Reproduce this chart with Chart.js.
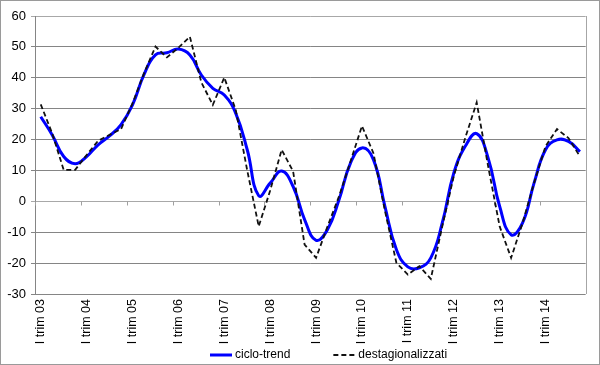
<!DOCTYPE html>
<html><head><meta charset="utf-8">
<script src="https://cdn.jsdelivr.net/npm/chart.js@4.4.0/dist/chart.umd.min.js"></script>
<style>html,body{margin:0;padding:0;background:#fff;} #wrap{width:600px;height:365px;position:relative;}</style>
</head><body><div id="wrap"><canvas id="c" width="600" height="365"></canvas></div>
<script>
const categories = [
 'I trim 03','II trim 03','III trim 03','IV trim 03',
 'I trim 04','II trim 04','III trim 04','IV trim 04',
 'I trim 05','II trim 05','III trim 05','IV trim 05',
 'I trim 06','II trim 06','III trim 06','IV trim 06',
 'I trim 07','II trim 07','III trim 07','IV trim 07',
 'I trim 08','II trim 08','III trim 08','IV trim 08',
 'I trim 09','II trim 09','III trim 09','IV trim 09',
 'I trim 10','II trim 10','III trim 10','IV trim 10',
 'I trim 11','II trim 11','III trim 11','IV trim 11',
 'I trim 12','II trim 12','III trim 12','IV trim 12',
 'I trim 13','II trim 13','III trim 13','IV trim 13',
 'I trim 14','II trim 14','III trim 14','IV trim 14'
];
const cicloTrend = [
 27.4, 21.5, 14.5, 12.2,
 14.5, 18.3, 21.2, 24.8,
 31.2, 41.0, 47.4, 48.1,
 49.3, 47.4, 40.9, 36.6,
 34.4, 28.5, 16.7, 1.8,
 5.9, 9.8, 4.8, -5.9,
 -12.6, -9.1, 0.5, 12.4,
 17.3, 13.5, -1.6, -15.6,
 -21.2, -21.5, -18.3, -7.0,
 9.1, 17.8, 21.9, 14.0,
 -1.6, -10.8, -7.0, 5.9,
 16.7, 19.9, 19.4, 16.1
];
const destagionalizzati = [
 31.4, 22.0, 10.2, 10.2,
 15.0, 19.6, 21.5, 23.4,
 31.7, 41.4, 50.1, 46.6,
 49.7, 53.3, 38.5, 31.2,
 40.1, 29.6, 10.0, -8.1,
 3.5, 16.7, 9.7, -14.0,
 -18.3, -8.1, 1.6, 12.9,
 24.4, 15.6, -3.0, -19.9,
 -23.7, -21.0, -25.1, -8.1,
 8.1, 20.5, 32.0, 11.3,
 -8.1, -18.3, -7.0, 5.9,
 17.8, 23.4, 20.5, 14.5
];
const yMin = -30, yMax = 60, yStep = 10;
const seriesNames = ['ciclo-trend', 'destagionalizzati'];

Chart.defaults.font.family = "'Liberation Sans', Arial, sans-serif";
Chart.defaults.font.size = 12;
Chart.defaults.color = '#000';

const extras = {
  id: 'extras',
  beforeDatasetsDraw(chart) {
    const {ctx, chartArea: a, scales: {x, y}} = chart;
    ctx.save();
    ctx.strokeStyle = '#a6a6a6';
    ctx.lineWidth = 1;
    ctx.beginPath();
    ctx.moveTo(Math.round(a.right) + 0.5, a.top);
    ctx.lineTo(Math.round(a.right) + 0.5, a.bottom);
    ctx.stroke();
    const y0 = Math.round(y.getPixelForValue(0)) + 0.5;
    const half = (x.getPixelForValue(1) - x.getPixelForValue(0)) / 2;
    ctx.strokeStyle = '#a0a0a0';
    ctx.beginPath();
    for (let k = 0; k <= categories.length; k += 4) {
      const px = Math.round(x.getPixelForValue(k) - half) + 0.5;
      ctx.moveTo(px, y0);
      ctx.lineTo(px, y0 + 4);
    }
    ctx.stroke();
    ctx.restore();
  },
  afterDraw(chart) {
    const {ctx} = chart;
    ctx.save();
    ctx.strokeStyle = '#9a9a9a';
    ctx.lineWidth = 1;
    ctx.strokeRect(0.5, 0.5, chart.width - 1, chart.height - 1);
    const ly = 355;
    ctx.font = "12px 'Liberation Sans', Arial, sans-serif";
    ctx.textBaseline = 'middle';
    ctx.fillStyle = '#000';
    let lx = 210;
    chart.data.datasets.forEach((d) => {
      ctx.strokeStyle = d.borderColor;
      ctx.lineWidth = d.borderWidth;
      ctx.setLineDash(d.borderDash || []);
      ctx.beginPath();
      ctx.moveTo(lx, ly);
      ctx.lineTo(lx + 22, ly);
      ctx.stroke();
      ctx.setLineDash([]);
      ctx.fillText(d.label, lx + 25, ly);
      lx += 25 + ctx.measureText(d.label).width + 43;
    });
    ctx.restore();
  }
};

new Chart(document.getElementById('c'), {
  type: 'line',
  data: {
    labels: categories,
    datasets: [
      {label: seriesNames[0], data: cicloTrend, borderColor: '#0000ff', borderWidth: 3,
       pointRadius: 0, tension: 0.45, fill: false, order: 1},
      {label: seriesNames[1], data: destagionalizzati, borderColor: '#111111', borderWidth: 1.8,
       borderDash: [5, 3], pointRadius: 0, tension: 0, fill: false, order: 0}
    ]
  },
  options: {
    responsive: false,
    animation: false,
    events: [],
    layout: {padding: {top: 16, right: 6, left: 0, bottom: 0}},
    plugins: {legend: {display: false}, tooltip: {enabled: false}},
    scales: {
      x: {
        offset: true,
        grid: {display: false, drawTicks: false},
        border: {display: false},
        ticks: {
          autoSkip: false, maxRotation: 90, minRotation: 90, padding: 5,
          font: {size: 12.5},
          callback: (v, i) => (i % 4 === 0 ? categories[i] : '')
        },
        afterFit: (s) => { s.height = 71; }
      },
      y: {
        min: yMin, max: yMax,
        ticks: {stepSize: yStep, padding: 5, font: {size: 13}},
        grid: {
          color: (c) => (c.tick && (c.tick.value === 0 || c.tick.value === yMax) ? '#a8a8a8' : '#858585'),
          tickLength: 4, lineWidth: 1
        },
        border: {display: true, color: '#858585'},
        afterFit: (s) => { s.width = 35; }
      }
    }
  },
  plugins: [extras]
});
</script>
</body></html>
